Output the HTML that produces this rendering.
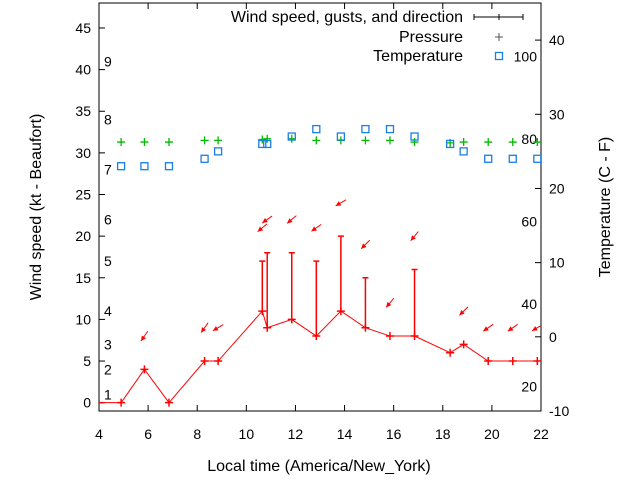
<!DOCTYPE html>
<html><head><meta charset="utf-8"><style>
html,body{margin:0;padding:0;background:#fff;}
svg{display:block;font-family:"Liberation Sans",sans-serif;}
</style></head><body>
<svg id="chart" width="640" height="480" viewBox="0 0 640 480">
<rect x="0" y="0" width="640" height="480" fill="#fff"/>
<g id="g"></g>
</svg>
<script>
const times=[4.0,4.9,5.85,6.85,8.3,8.85,10.65,10.85,11.85,12.85,13.85,14.85,15.85,16.85,18.3,18.85,19.85,20.85,21.85];
const wind=[0,0,4,0,5,5,11,9,10,8,11,9,8,8,6,7,5,5,5];
const gusts=[null,null,null,null,null,null,17,18,18,17,20,15,null,16,null,null,null,null,null];
const dirs=[null,null,35,null,35,60,50,55,50,55,60,45,40,40,null,45,55,55,60];
const pressure=[null,31.3,31.3,31.3,31.5,31.5,31.6,31.7,31.7,31.5,31.5,31.5,31.5,31.3,31.2,31.3,31.3,31.3,31.3];
const temperature=[null,23,23,23,24,25,26,26,27,28,27,28,28,27,26,25,24,24,24];
const xTicks=[4,6,8,10,12,14,16,18,20,22];
const yTicks=[0,5,10,15,20,25,30,35,40,45];
const y2Ticks=[-10,0,10,20,30,40];
const beaufort=[1,2,3,4,5,6,7,8,9];
const beaufortKt=[1,4,7,11,17,22,28,34,41];
const fTicks=[20,40,60,80,100];

const L=99,R=541,T=3,B=411;
const x=v=>L+(v-4)/(22-4)*(R-L);
const y=v=>B-(v+1)/49*(B-T);
const y2=v=>B-(v+10)/55*(B-T);
const g=document.getElementById('g');
const NS='http://www.w3.org/2000/svg';
function mk(tag,attrs,parent){const e=document.createElementNS(NS,tag);for(const k in attrs)e.setAttribute(k,attrs[k]);(parent||g).appendChild(e);return e;}

const defs=mk('defs',{});const cp=mk('clipPath',{id:'clip'},defs);mk('rect',{x:L,y:T,width:R-L,height:B-T},cp);

const box=mk('rect',{x:L,y:T,width:R-L,height:B-T,fill:'none',stroke:'#000','stroke-width':1});



xTicks.forEach(v=>{
 const t=mk('line',{x1:x(v),x2:x(v),y1:B,y2:B-6,stroke:'#000'});
 
 
 mk('line',{x1:x(v),x2:x(v),y1:T,y2:T+6,stroke:'#000'});
 const l=mk('text',{x:x(v),y:439,'font-size':14,'text-anchor':'middle'});l.textContent=v;
 
 
});
yTicks.forEach(v=>{
 const t=mk('line',{x1:L,x2:L+6,y1:y(v),y2:y(v),stroke:'#000'});
 
 
 const l=mk('text',{x:L-8,y:y(v)+5,'font-size':14,'text-anchor':'end'});l.textContent=v;
 
 
});
y2Ticks.forEach(v=>{
 const t=mk('line',{x1:R,x2:R-6,y1:y2(v),y2:y2(v),stroke:'#000'});
 
 
 const l=mk('text',{x:R+8,y:y2(v)+5,'font-size':14});l.textContent=v;
 
 
});
beaufort.forEach((b,i)=>{
 const l=mk('text',{x:104,y:y(beaufortKt[i])+5,'font-size':14});l.textContent=b;
 
 
});
fTicks.forEach(f=>{
 const c=(f-32)/1.8;
 const l=mk('text',{x:537,y:y2(c)+5,'font-size':14,'text-anchor':'end'});l.textContent=f;
 
 
});

const pg=mk('g',{'clip-path':'url(#clip)'});
const pts=times.map((t,i)=>x(t)+','+y(wind[i])).join(' ');
const wl=mk('polyline',{points:pts,fill:'none',stroke:'#f00','stroke-width':1},pg);


times.forEach((t,i)=>{
 const px=x(t),py=y(wind[i]);
 const m=mk('path',{d:`M${px-4},${py}H${px+4}M${px},${py-4}V${py+4}`,stroke:'#f00','stroke-width':1.5},pg);
 
 
 if(gusts[i]!=null){
  const gy=y(gusts[i]);
  const e=mk('path',{d:`M${px},${py}V${gy}M${px-3},${gy}H${px+3}`,stroke:'#f00','stroke-width':1.5},pg);
  
  
 }
 if(dirs[i]!=null){
  const top=Math.max(wind[i],gusts[i]||0)+4;
  const cx=px,cy=y(top);
  const a=dirs[i]*Math.PI/180;
  const dx=Math.sin(a),dy=-Math.cos(a);
  const x1=cx+dx*6,y1=cy+dy*6,x2=cx-dx*6,y2b=cy-dy*6;
  const ar=mk('g',{},pg);
  
  
  mk('line',{x1:x1,y1:y1,x2:x2,y2:y2b,stroke:'#f00','stroke-width':1},ar);
  const hx=-dx,hy=-dy,pxn=-hy,pyn=hx;
  mk('polygon',{points:`${x2},${y2b} ${x2-hx*5+pxn*2.5},${y2b-hy*5+pyn*2.5} ${x2-hx*5-pxn*2.5},${y2b-hy*5-pyn*2.5}`,fill:'#f00'},ar);
 }
 if(pressure[i]!=null){
  const qy=y(pressure[i]);
  const p=mk('path',{d:`M${px-4},${qy}H${px+4}M${px},${qy-4}V${qy+4}`,stroke:'#0b0','stroke-width':1.3},pg);
  
  
 }
 if(temperature[i]!=null){
  const ty=y2(temperature[i]);
  const s=mk('rect',{x:px-3.5,y:ty-3.5,width:7,height:7,fill:'none',stroke:'#1a7ee8','stroke-width':1.3},pg);
  
  
 }
});

function txt(s,xx,yy,anchor,name,size,rot){const t=mk('text',{x:xx,y:yy,'font-size':size||16,'text-anchor':anchor||'start'});if(rot)t.setAttribute('transform',rot);t.textContent=s;

return t;}
txt('Wind speed, gusts, and direction',463,22,'end','legend-wind');
const lw=mk('path',{d:'M474,17H523M474,14V20M523,14V20M499,14V20',stroke:'#000','stroke-width':1});


txt('Pressure',463,42,'end','legend-pressure');
const lp=mk('path',{d:'M495,37H503M499,33V41',stroke:'#555','stroke-width':1});


txt('Temperature',463,61,'end','legend-temperature');
const lt=mk('rect',{x:495.5,y:52.5,width:7,height:7,fill:'none',stroke:'#1a7ee8','stroke-width':1.3});



txt('Local time (America/New_York)',319,471,'middle','x-axis-title');
txt('Wind speed (kt - Beaufort)',0,0,'middle','y-axis-title',16,'translate(41,207) rotate(-90)');
txt('Temperature (C - F)',0,0,'middle','y2-axis-title',16,'translate(610,207) rotate(-90)');
</script>
</body></html>
